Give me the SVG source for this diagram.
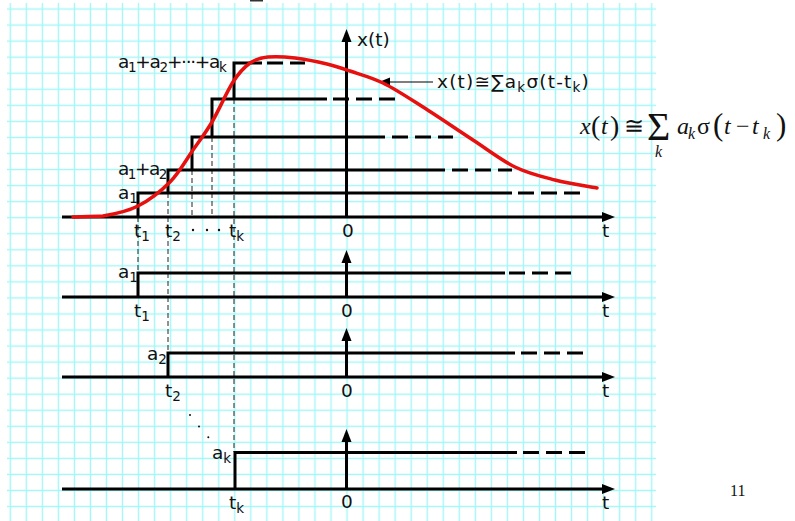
<svg xmlns="http://www.w3.org/2000/svg" width="795" height="521" viewBox="0 0 795 521">
<defs>
<pattern id="grid" patternUnits="userSpaceOnUse" x="2.3" y="1" width="16.035" height="16.05">
<path d="M8,0 V16.05 M0,8 H16.035" stroke="#a6f6f6" stroke-width="1.4" fill="none"/>
</pattern>
</defs>
<style>
.lb{font-family:"DejaVu Sans",sans-serif;font-size:18.5px;fill:#111}
.sub{font-size:13.5px}
.ax{stroke:#000;stroke-width:3;fill:none}
.st{stroke:#000;stroke-width:3;fill:none;stroke-linejoin:miter}
.dh{stroke:#000;stroke-width:3;fill:none;stroke-dasharray:16 7}
.dv{stroke:#222;stroke-width:1;fill:none;stroke-dasharray:5 3}
.ah{fill:#000}
.eq{font-family:"Liberation Serif","Times New Roman",serif;font-size:24px;fill:#111}
.it{font-style:italic}
.eqs{font-size:16px}
.par{font-size:28px}
.big{font-size:31px}
.sig{font-size:40px}
.tight{letter-spacing:-1.3px}
.tight2{letter-spacing:-1.5px}
.wide{letter-spacing:1.2px}
</style>
<rect x="0" y="0" width="795" height="521" fill="#fff"/>
<rect x="7" y="3" width="649" height="518" fill="url(#grid)"/>
<rect x="250" y="0" width="13" height="1.5" fill="#333"/>

<g id="connectors">
<path class="dv" d="M138,217 V273 M168,193 V353 M192,170 V217 M212,137 V217 M234,99 V452"/>
<path d="M433,82 H388" stroke="#000" stroke-width="1.2" fill="none"/>
<polygon class="ah" points="379,82 390,77.5 390,86.5"/>
</g>

<g id="plot-top">
<path class="ax" d="M62,217 H604"/>
<polygon class="ah" points="615,217 602,212 602,222"/>
<path class="ax" d="M346.5,217 V40"/>
<polygon class="ah" points="346.5,29 341.5,42 351.5,42"/>
<path class="st" d="M138,217 V193 H512"/>
<path class="dh" d="M518,193 H580"/>
<path class="st" d="M168,193 V170 H445"/>
<path class="dh" d="M452,170 H512"/>
<path class="st" d="M192,170 V137 H385"/>
<path class="dh" d="M392,137 H453"/>
<path class="st" d="M212,137 V99 H327"/>
<path class="dh" d="M333,99 H395"/>
<path class="st" d="M234,99 V63 H262"/>
<path class="dh" d="M267,63 H305"/>
<path d="M73,217 C78,216.8 92,216.5 103,216 C113.8,214.2 126.8,211.7 138,206 C149.2,200.3 160.8,191.3 170,182 C179.2,172.7 186,160 193,150 C200,140 205.3,133.3 212,122 C218.7,110.7 226.7,91.8 233,82 C239.3,72.2 244.2,67.2 250,63 C255.8,58.8 260.5,57.8 268,57 C275.5,56.2 285.2,56.8 295,58 C304.8,59.2 317.8,61.8 327,64 C336.2,66.2 340.7,67.8 350,71 C359.3,74.2 370.8,77 383,83 C395.2,89 408,97.5 423,107 C438,116.5 457.7,130 473,140 C488.3,150 501.3,160.3 515,167 C528.7,173.7 541.3,176.5 555,180 C568.7,183.5 590,186.7 597,188" stroke="#e80f0f" stroke-width="3.5" fill="none" stroke-linecap="round"/>
<text class="lb" x="357" y="46">x(t)</text>
<text class="lb wide" x="437" y="88">x(t)≅∑a<tspan class="sub" dy="4">k</tspan><tspan dy="-4">σ(t-t</tspan><tspan class="sub" dy="4">k</tspan><tspan dy="-4">)</tspan></text>
<text class="lb tight" x="118" y="68">a<tspan class="sub" dy="4">1</tspan><tspan dy="-4">+a</tspan><tspan class="sub" dy="4">2</tspan><tspan dy="-4">+···+a</tspan><tspan class="sub" dy="4">k</tspan></text>
<text class="lb tight2" x="118" y="175">a<tspan class="sub" dy="4">1</tspan><tspan dy="-4">+a</tspan><tspan class="sub" dy="4">2</tspan></text>
<text class="lb" x="118" y="199">a<tspan class="sub" dy="4">1</tspan></text>
<text class="lb" x="134" y="237">t<tspan class="sub" dy="4">1</tspan></text>
<text class="lb" x="165" y="237">t<tspan class="sub" dy="4">2</tspan></text>
<circle cx="193" cy="230" r="1.2" fill="#111"/>
<circle cx="207" cy="230" r="1.2" fill="#111"/>
<circle cx="219" cy="230" r="1.2" fill="#111"/>
<text class="lb" x="229" y="237">t<tspan class="sub" dy="4">k</tspan></text>
<text class="lb" x="342" y="237">0</text>
<text class="lb" x="602" y="237">t</text>
</g>

<g id="plot-a1">
<path class="ax" d="M62,297 H604"/>
<polygon class="ah" points="615,297 602,292 602,302"/>
<path class="ax" d="M346.5,297 V261"/>
<polygon class="ah" points="346.5,250 341.5,263 351.5,263"/>
<path class="st" d="M138,297 V273 H505"/>
<path class="dh" d="M509,273 H578"/>
<text class="lb" x="118" y="278">a<tspan class="sub" dy="4">1</tspan></text>
<text class="lb" x="134" y="317">t<tspan class="sub" dy="4">1</tspan></text>
<text class="lb" x="341" y="317">0</text>
<text class="lb" x="602" y="317">t</text>
</g>

<g id="plot-a2">
<path class="ax" d="M62,377 H604"/>
<polygon class="ah" points="615,377 602,372 602,382"/>
<path class="ax" d="M346.5,377 V339"/>
<polygon class="ah" points="346.5,328 341.5,341 351.5,341"/>
<path class="st" d="M168,377 V353 H515"/>
<path class="dh" d="M521,353 H588"/>
<text class="lb" x="147" y="360">a<tspan class="sub" dy="4">2</tspan></text>
<text class="lb" x="165" y="397">t<tspan class="sub" dy="4">2</tspan></text>
<text class="lb" x="341" y="397">0</text>
<text class="lb" x="602" y="397">t</text>
</g>

<g id="dots">
<circle cx="190" cy="415" r="1" fill="#111"/>
<circle cx="199" cy="426.5" r="1" fill="#111"/>
<circle cx="208.3" cy="437.3" r="1" fill="#111"/>
</g>

<g id="plot-ak">
<path class="ax" d="M62,489 H604"/>
<polygon class="ah" points="615,489 602,484 602,494"/>
<path class="ax" d="M346.5,489 V440"/>
<polygon class="ah" points="346.5,429 341.5,442 351.5,442"/>
<path class="st" d="M235,489 V452.5 H517"/>
<path class="dh" d="M523,452.5 H588"/>
<text class="lb" x="212" y="459">a<tspan class="sub" dy="4">k</tspan></text>
<text class="lb" x="229" y="509">t<tspan class="sub" dy="4">k</tspan></text>
<text class="lb" x="341" y="508">0</text>
<text class="lb" x="602" y="509">t</text>
</g>

<g id="formula">
<text class="eq it" x="580" y="134">x</text>
<text class="eq par" x="591" y="135">(</text>
<text class="eq it" x="601" y="134">t</text>
<text class="eq par" x="610" y="135">)</text>
<text class="eq" x="624" y="134">≅</text>
<text class="eq sig" x="647" y="140">Σ<tspan class="it eqs" x="655" dy="17">k</tspan></text>
<text class="eq it" x="677" y="134">a</text>
<text class="eq it eqs" x="688" y="139">k</text>
<text class="eq" x="697" y="134">σ</text>
<text class="eq big" x="713" y="135">(</text>
<text class="eq it" x="724" y="134">t</text>
<text class="eq" x="736" y="134">−</text>
<text class="eq it" x="752" y="134">t</text>
<text class="eq it eqs" x="763" y="139">k</text>
<text class="eq big" x="776" y="135">)</text>
</g>

<text x="730" y="496" font-family="'Liberation Serif',serif" font-size="16" fill="#111">11</text>
</svg>
